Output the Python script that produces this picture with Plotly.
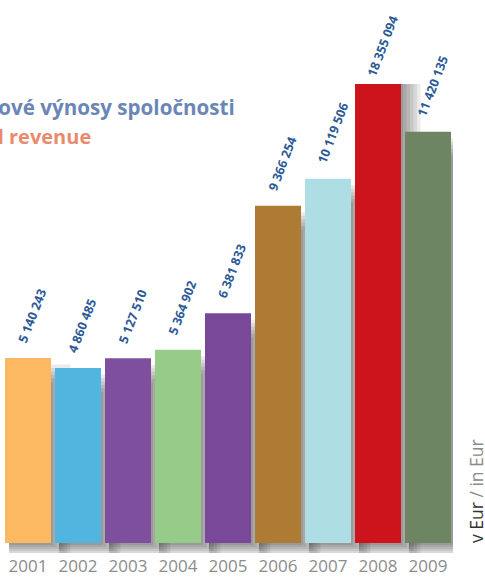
import plotly.graph_objects as go

# ---- data ----
years = ["2001", "2002", "2003", "2004", "2005", "2006", "2007", "2008", "2009"]
revenue = [5140243, 4860485, 5127510, 5364902, 6381833, 9366254, 10119506, 18355094, 11420135]
bar_colors = ["#FDB862", "#52B5E0", "#7E4F9D", "#96CB8A", "#794899",
              "#AD7B33", "#AEDDE3", "#CD141C", "#6E8563"]
title_sk = "Celkové výnosy spoločnosti"
title_en = "Total revenue"
unit_sk = "v Eur"
unit_en = " / in Eur"

# ---- layout geometry ----
W, H = 485, 577
M_L, M_R, M_T, M_B = 3, 32, 84, 24
Y_MIN, Y_MAX = -0.28e6, 12.75e6
plot_w = W - M_L - M_R
plot_h = H - M_T - M_B
PX_X = len(years) / plot_w            # category units per pixel
PX_Y = (Y_MAX - Y_MIN) / plot_h       # data units per pixel
BAR_W = 0.92
HALF_PX = BAR_W / 2 / PX_X

fig = go.Figure()

# soft drop shadow built from stacked translucent bars
for i in range(6):
    left_px = -HALF_PX + 4
    right_px = HALF_PX + 2 + 3.5 * i
    top_drop_px = 24 - 3.5 * i
    bottom_px = 2 + 2 * i
    base = -bottom_px * PX_Y
    tops = [v - top_drop_px * PX_Y for v in revenue]
    fig.add_trace(go.Bar(
        x=years, y=[t - base for t in tops], base=base,
        offset=left_px * PX_X, width=(right_px - left_px) * PX_X,
        marker=dict(color="rgba(0,0,0,0.08)", line=dict(width=0)),
        hoverinfo="skip", showlegend=False,
    ))

fig.add_trace(go.Bar(
    x=years, y=revenue, width=BAR_W,
    marker=dict(color=bar_colors, line=dict(width=0)),
    showlegend=False,
))

# value labels
for i, v in enumerate(revenue):
    fig.add_annotation(
        x=i, y=min(v, Y_MAX), xref="x", yref="y",
        text=f"{v:,}".replace(",", " "),
        textangle=-69, showarrow=False,
        xanchor="center", yanchor="bottom", xshift=4.5,
        yshift=10 if v <= Y_MAX else 2,
        font=dict(family="Open Sans", size=12.5, color="#2C5A96", weight="bold"),
    )

# title (left part runs off the page, as in the source)
fig.add_annotation(
    x=(237 - M_L) / plot_w, y=(H - M_B - 106.5) / plot_h, xref="paper", yref="paper",
    text=title_sk, showarrow=False, xanchor="right", yanchor="middle",
    font=dict(family="Open Sans", size=20.6, color="#6A86B6", weight="bold"),
)
fig.add_annotation(
    x=(93 - M_L) / plot_w, y=(H - M_B - 136.5) / plot_h, xref="paper", yref="paper",
    text=title_en, showarrow=False, xanchor="right", yanchor="middle",
    font=dict(family="Open Sans", size=20, color="#E98A6D", weight="bold"),
)

# unit label
fig.add_annotation(
    x=(476 - M_L) / plot_w, y=(H - M_B - 491) / plot_h, xref="paper", yref="paper",
    text=f"<span style='color:#333333'>{unit_sk}</span>{unit_en}",
    textangle=-90, showarrow=False, xanchor="center", yanchor="middle",
    font=dict(family="Open Sans", size=17.5, color="#8A8A8A"),
)

fig.update_layout(
    width=W, height=H,
    margin=dict(l=M_L, r=M_R, t=M_T, b=M_B, pad=0),
    paper_bgcolor="white", plot_bgcolor="white",
    barmode="overlay", bargap=0.08,
    hovermode=False,
    xaxis=dict(
        type="category", range=[-0.5, len(years) - 0.5],
        showgrid=False, zeroline=False, showline=False, ticks="",
        automargin=False, ticklabelstandoff=1,
        tickfont=dict(family="Open Sans", size=17, color="#8C8C8C"),
    ),
    yaxis=dict(range=[Y_MIN, Y_MAX], visible=False, showgrid=False,
               zeroline=False, automargin=False),
)

fig.write_html("out.html", config={"displayModeBar": False},
               post_script="document.body.style.margin='0';")
